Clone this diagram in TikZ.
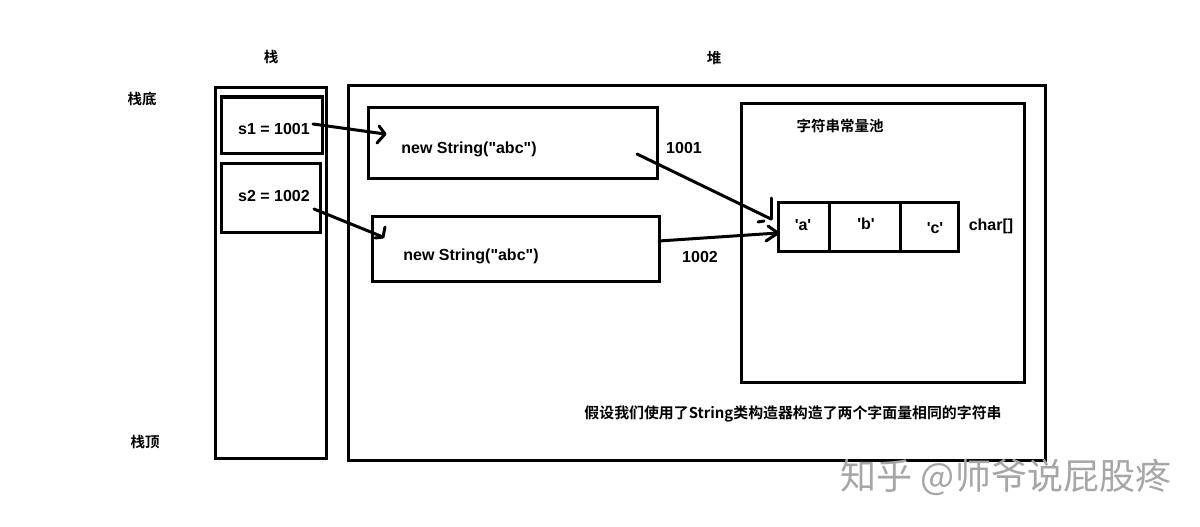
\documentclass[tikz,border=0pt]{standalone}
\usepackage{fontspec}
\setmainfont{Noto Sans CJK SC}[BoldFont={Noto Sans CJK SC Bold}]
\newfontfamily\latinfont{Liberation Sans}
\usetikzlibrary{arrows.meta}
\begin{document}
\begin{tikzpicture}[x=1pt,y=-1pt,
  box/.style={draw=black,line width=3pt,inner sep=0pt,outer sep=0pt},
  lbl/.style={font=\fontsize{14.5}{16}\selectfont\bfseries,inner sep=0pt},
  lat/.style={font=\latinfont\fontsize{16}{18}\selectfont\bfseries,inner sep=0pt},
  conn/.style={line width=3pt,line cap=round,line join=round},
  wm/.style={font=\fontsize{36}{40}\selectfont,text=black!35,inner sep=0pt}]
\useasboundingbox[fill=white] (0,0) rectangle (1200,527);
% labels
\node[lbl] (zhan) at (271,57) {栈};
\node[lbl] (dui) at (714,58) {堆};
\node[lbl] (zhandi) at (142,99) {栈底};
\node[lbl] (zhanding) at (145,442) {栈顶};
% stack
\node[box,minimum width=111pt,minimum height=370pt] (stack) at (270.5,273) {};
\node[box,minimum width=101pt,minimum height=56pt] (s1) at (271.5,125) {};
\node[lat] (s1t) at (274,129) {s1 = 1001};
\node[box,minimum width=99pt,minimum height=69pt] (s2) at (270.5,197.5) {};
\node[lat] (s2t) at (274,196) {s2 = 1002};
% heap
\node[box,minimum width=697pt,minimum height=374pt] (heap) at (696.5,273) {};
\node[box,minimum width=289pt,minimum height=71pt] (str1) at (512.5,142.5) {};
\node[lat] (str1t) at (469,149) {new String("abc")};
\node[box,minimum width=287pt,minimum height=65pt] (str2) at (515.5,248.5) {};
\node[lat] (str2t) at (471,256) {new String("abc")};
% pool
\node[box,minimum width=283pt,minimum height=279pt] (pool) at (882.5,242.5) {};
\node[lbl] (poolt) at (840,126) {字符串常量池};
\node[box,minimum width=51pt,minimum height=49pt] (ca) at (803.5,226.5) {};
\node[box,minimum width=71pt,minimum height=49pt] (cb) at (864.5,226.5) {};
\node[box,minimum width=58pt,minimum height=49pt] (cc) at (929,226.5) {};
\node[lat] (cat) at (803,225) {'a'};
\node[lat] (cbt) at (866,224) {'b'};
\node[lat] (cct) at (935,228) {'c'};
\node[lat] (chart) at (991,226) {char[]};
\node[lat] (l1001) at (684,148) {1001};
\node[lat] (l1002) at (700,257) {1002};
% caption
\node[lbl,font=\fontsize{14.9}{16}\selectfont\bfseries] (cap) at (793,414) {假设我们使用了String类构造器构造了两个字面量相同的字符串};
% watermark
\node[wm] (wmark) at (1006,477) {知乎 @师爷说屁股疼};
% connector coordinates
\coordinate (a1s) at (313,124);
\coordinate (a1e) at (385,134);
\coordinate (a2s) at (314,209);
\coordinate (a2e) at (383,237);
\coordinate (a3s) at (637,154);
\coordinate (a3e) at (771,219);
\coordinate (a4s) at (659,241);
\coordinate (a4e) at (778,233);
% connectors
\draw[conn] (a1s) -- (a1e);
\draw[conn] (379,126) -- (a1e) -- (377,143);
\draw[conn] (a2s) -- (a2e);
\draw[conn] (385,227) -- (a2e) -- (375,238);
\draw[conn] (a3s) -- (a3e);
\draw[conn] (771,198) -- (a3e);
\draw[conn] (758,222) -- (764,221);
\draw[conn] (a4s) -- (a4e);
\draw[conn] (768,226) -- (a4e) -- (766,241);
\end{tikzpicture}
\end{document}
